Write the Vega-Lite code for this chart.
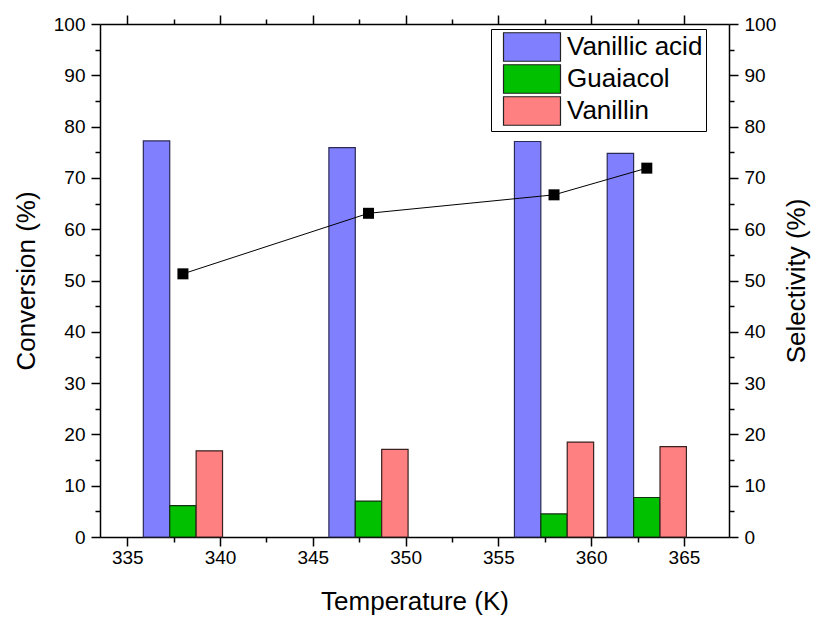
{
  "$schema": "https://vega.github.io/schema/vega-lite/v6.json",
  "width": 629,
  "height": 513,
  "autosize": {"type": "none"},
  "padding": {"left": 100, "top": 24, "right": 91, "bottom": 81},
  "background": "white",
  "config": {
    "font": "Liberation Sans",
    "view": {"stroke": null},
    "axis": {
      "grid": false,
      "domainColor": "black",
      "domainWidth": 1.5,
      "tickColor": "black",
      "tickWidth": 1.5,
      "labelFont": "Liberation Sans",
      "labelFontSize": 19,
      "labelColor": "black",
      "titleFont": "Liberation Sans",
      "titleFontSize": 26,
      "titleFontWeight": "normal",
      "titleColor": "black"
    },
    "legend": {
      "orient": "none",
      "legendX": 391,
      "legendY": 5,
      "padding": 3,
      "strokeColor": "black",
      "strokeWidth": 1,
      "fillColor": "white",
      "symbolType": "M-2,-1H2V1H-2Z",
      "symbolSize": 812,
      "symbolStrokeColor": "#222222",
      "symbolStrokeWidth": 1.2,
      "symbolOpacity": 1,
      "symbolOffset": 23,
      "labelFont": "Liberation Sans",
      "labelFontSize": 26,
      "labelColor": "black",
      "labelOffset": 20,
      "rowPadding": -3.5,
      "labelLimit": 300
    }
  },
  "datasets": {
    "conv": [
      {"temperature": 338, "product": "Vanillic acid", "value": 77.2},
      {"temperature": 338, "product": "Guaiacol", "value": 6.1},
      {"temperature": 338, "product": "Vanillin", "value": 16.8},
      {"temperature": 348, "product": "Vanillic acid", "value": 75.9},
      {"temperature": 348, "product": "Guaiacol", "value": 7.0},
      {"temperature": 348, "product": "Vanillin", "value": 17.1},
      {"temperature": 358, "product": "Vanillic acid", "value": 77.1},
      {"temperature": 358, "product": "Guaiacol", "value": 4.5},
      {"temperature": 358, "product": "Vanillin", "value": 18.5},
      {"temperature": 363, "product": "Vanillic acid", "value": 74.8},
      {"temperature": 363, "product": "Guaiacol", "value": 7.7},
      {"temperature": 363, "product": "Vanillin", "value": 17.6}
    ],
    "sel": [
      {"temperature": 338, "selectivity": 51.3},
      {"temperature": 348, "selectivity": 63.1},
      {"temperature": 358, "selectivity": 66.7},
      {"temperature": 363, "selectivity": 71.9}
    ]
  },
  "layer": [
    {
      "data": {"name": "conv"},
      "encoding": {
        "x": {
          "field": "temperature",
          "type": "quantitative",
          "scale": {"domain": [333.8, 367.16], "nice": false, "zero": false},
          "axis": {
            "title": "Temperature (K)",
            "orient": "bottom",
            "values": [335, 337.5, 340, 342.5, 345, 347.5, 350, 352.5, 355, 357.5, 360, 362.5, 365],
            "labelExpr": "datum.value % 5 === 0 ? datum.label : ''",
            "tickSize": {"condition": {"test": "datum.value % 5 === 0", "value": 9}, "value": 5},
            "labelPadding": 2,
            "titlePadding": 21,
            "labelFlush": false
          }
        },
        "y": {
          "field": "value",
          "type": "quantitative",
          "scale": {"domain": [0, 100], "nice": false},
          "axis": {
            "title": "Conversion (%)",
            "orient": "left",
            "values": [0, 5, 10, 15, 20, 25, 30, 35, 40, 45, 50, 55, 60, 65, 70, 75, 80, 85, 90, 95, 100],
            "labelExpr": "datum.value % 10 === 0 ? datum.label : ''",
            "tickSize": {"condition": {"test": "datum.value % 10 === 0", "value": 9}, "value": 5},
            "labelPadding": 6,
            "titlePadding": 14,
            "labelFlush": false
          }
        },
        "color": {
          "field": "product",
          "type": "nominal",
          "scale": {"domain": ["Vanillic acid", "Guaiacol", "Vanillin"], "range": ["#8080ff", "#00c000", "#ff8080"]},
          "legend": {"title": null}
        }
      },
      "layer": [
        {
          "transform": [{"filter": "datum.product === 'Vanillic acid'"}],
          "mark": {"type": "bar", "orient": "vertical", "width": 26.4, "xOffset": -26.4, "stroke": "#2a2a55", "strokeWidth": 1.2, "opacity": 1}
        },
        {
          "transform": [{"filter": "datum.product === 'Guaiacol'"}],
          "mark": {"type": "bar", "orient": "vertical", "width": 26.4, "xOffset": 0, "stroke": "#123012", "strokeWidth": 1.2, "opacity": 1}
        },
        {
          "transform": [{"filter": "datum.product === 'Vanillin'"}],
          "mark": {"type": "bar", "orient": "vertical", "width": 26.4, "xOffset": 26.4, "stroke": "#3a2020", "strokeWidth": 1.2, "opacity": 1}
        }
      ]
    },
    {
      "data": {"name": "sel"},
      "encoding": {
        "x": {
          "field": "temperature",
          "type": "quantitative",
          "scale": {"domain": [333.8, 367.16], "nice": false, "zero": false},
          "axis": {
            "title": null,
            "orient": "top",
            "labels": false,
            "values": [335, 337.5, 340, 342.5, 345, 347.5, 350, 352.5, 355, 357.5, 360, 362.5, 365],
            "tickSize": {"condition": {"test": "datum.value % 5 === 0", "value": 9}, "value": 5}
          }
        },
        "y": {
          "field": "selectivity",
          "type": "quantitative",
          "scale": {"domain": [0, 100], "nice": false},
          "axis": {
            "title": "Selectivity (%)",
            "orient": "right",
            "titleAngle": 270,
            "titleBaseline": "top",
            "values": [0, 5, 10, 15, 20, 25, 30, 35, 40, 45, 50, 55, 60, 65, 70, 75, 80, 85, 90, 95, 100],
            "labelExpr": "datum.value % 10 === 0 ? datum.label : ''",
            "tickSize": {"condition": {"test": "datum.value % 10 === 0", "value": 9}, "value": 5},
            "labelPadding": 6,
            "titlePadding": 8,
            "labelFlush": false
          }
        }
      },
      "layer": [
        {"mark": {"type": "line", "color": "black", "strokeWidth": 1}},
        {"mark": {"type": "point", "shape": "square", "filled": true, "color": "black", "size": 121, "opacity": 1}}
      ]
    }
  ],
  "resolve": {"scale": {"y": "independent"}, "axis": {"x": "independent"}}
}
